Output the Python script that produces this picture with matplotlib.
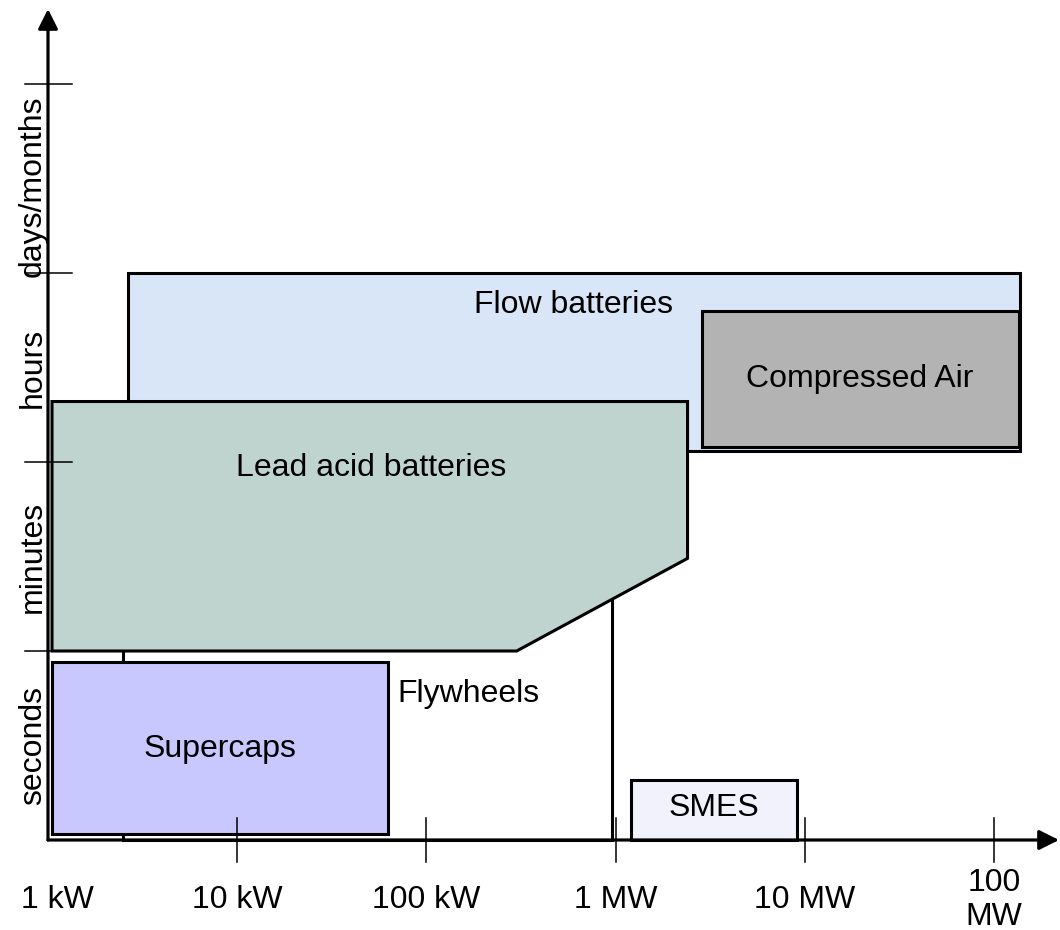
import matplotlib.pyplot as plt
from matplotlib.patches import Polygon, Rectangle
import numpy as np

plt.rcParams['font.family'] = ['Liberation Sans', 'DejaVu Sans']

# power axis (kW, log) and duration bands (0 = seconds ... 4 = top of days/months)
power_ticks = [1, 10, 100, 1000, 10000, 100000]
power_labels = ["1 kW", "10 kW", "100 kW", "1 MW", "10 MW", "100\nMW"]
band_edges = [0, 1, 2, 3, 4]
band_labels = ["seconds", "minutes", "hours", "days/months"]

# rectangular technologies: power range (kW) and duration range (band units)
techs = ["Flow batteries", "Compressed Air", "Flywheels", "Supercaps", "SMES"]
power_lo = [2.65, 2860, 2.5, 1.05, 1200]
power_hi = [137000, 135000, 960, 63, 9100]
dur_lo = [2.06, 2.08, 0.0, 0.03, 0.0]
dur_hi = [3.0, 2.80, 1.3, 0.94, 0.32]
colors = ["#d8e6f8", "#b3b3b3", "#ffffff", "#c8c8ff", "#f2f2fd"]
label_power = [600, 19500, 70, 8.1, 3300]
label_dur = [2.83, 2.44, 0.77, 0.48, 0.17]
label_ha = ["center", "center", "left", "center", "center"]

# lead acid batteries outline (cut corner)
lead_power = [1.05, 2400, 2400, 300, 1.05]
lead_dur = [2.32, 2.32, 1.49, 1.0, 1.0]

FS = 23

fig = plt.figure(figsize=(10.6, 9.3), dpi=100)
ax = fig.add_axes([0, 0, 1, 1])
ax.set_xscale('log')
ax.set_xlim(10 ** (-48 / 189.2), 10 ** (1012 / 189.2))
ax.set_ylim(-90 / 189, 840 / 189)
ax.axis('off')

def add_rect(i, z):
    r = Rectangle((power_lo[i], dur_lo[i]), power_hi[i] - power_lo[i], dur_hi[i] - dur_lo[i],
                  facecolor=colors[i], edgecolor='black', lw=2.2, zorder=z)
    ax.add_patch(r)
    ax.text(label_power[i], label_dur[i], techs[i], ha=label_ha[i], va='center',
            fontsize=FS, zorder=z + 0.5)

add_rect(0, 1)
add_rect(1, 2)
add_rect(2, 3)
ax.add_patch(Polygon(np.column_stack([lead_power, lead_dur]), closed=True,
                     facecolor="#bfd3cf", edgecolor='black', lw=2.2, zorder=4))
ax.text(51, 1.97, "Lead acid batteries", ha='center', va='center', fontsize=FS, zorder=4.5)
add_rect(3, 5)
add_rect(4, 6)

# axes with arrow heads
ax.annotate('', xy=(10 ** (1011 / 189.2), 0), xytext=(1, 0),
            arrowprops=dict(arrowstyle='-|>', mutation_scale=30, lw=2.3, color='black',
                            shrinkA=0, shrinkB=0), zorder=10)
ax.annotate('', xy=(1, 831 / 189), xytext=(1, 0),
            arrowprops=dict(arrowstyle='-|>', mutation_scale=30, lw=2.3, color='black',
                            shrinkA=0, shrinkB=0), zorder=10)

# tick marks and labels
tick_half = 22 / 189
for p, lab in zip(power_ticks, power_labels):
    if p > 1:
        ax.plot([p, p], [-tick_half, tick_half], color='black', lw=1.1, zorder=10)
    xp = p * 1.12 if p == 1 else p
    ax.text(xp, -60 / 189, lab, ha='center', va='center', fontsize=FS, linespacing=1.15)

left = 10 ** (-23 / 189.2)
right = 10 ** (24 / 189.2)
for b in band_edges[1:]:
    ax.plot([left, right], [b, b], color='black', lw=1.1, zorder=10)
for i, lab in enumerate(band_labels):
    ax.text(10 ** (-15 / 189.2), band_edges[i] + 0.5 - (0.04 if i == 3 else 0), lab,
            rotation=90, ha='center', va='center', fontsize=FS, zorder=9)

fig.savefig("out.png", dpi=100)
